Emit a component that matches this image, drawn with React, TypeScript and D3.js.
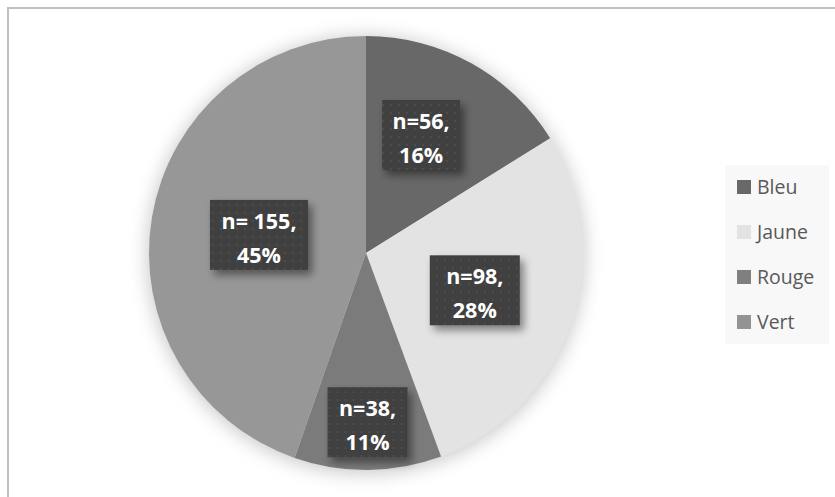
import React from "react";
import * as d3 from "d3";

const categories = ["Bleu", "Jaune", "Rouge", "Vert"];
const counts = [56, 98, 38, 155];
const percents = ["16%", "28%", "11%", "45%"];
const labelFirstLines = ["n=56,", "n=98,", "n=38,", "n= 155,"];

const sliceColors = ["#686868", "#e3e3e3", "#7b7b7b", "#979797"];
const legendColors = ["#686868", "#e3e3e3", "#7f7f7f", "#939393"];
const labelRadiusFrac = [0.6, 0.53, 0.78, 0.5];
const labelAngleShift = [-0.07, 0, 0, 0];

const W = 835;
const H = 497;
const cx = 366;
const cy = 253;
const R = 217;

export default function App() {
  const pie = d3.pie<number>().sort(null).value((d) => d);
  const arcs = pie(counts);
  const arcGen = d3.arc<d3.PieArcDatum<number>>().innerRadius(0).outerRadius(R);

  const boxW = [78, 90, 80, 98];
  const boxH = 70;

  return (
    <div style={{ position: "fixed", left: 0, top: 0 }}>
      <svg width={W} height={H} style={{ display: "block" }}>
        <defs>
          <filter id="pieShadow" x="-30%" y="-30%" width="160%" height="160%">
            <feGaussianBlur stdDeviation="9" />
          </filter>
          <filter id="boxShadow" x="-30%" y="-30%" width="170%" height="170%">
            <feGaussianBlur in="SourceAlpha" stdDeviation="4" />
            <feOffset dx="4" dy="5" result="b" />
            <feComponentTransfer>
              <feFuncA type="linear" slope="0.45" />
            </feComponentTransfer>
            <feMerge>
              <feMergeNode />
              <feMergeNode in="SourceGraphic" />
            </feMerge>
          </filter>
          <pattern id="dots" width="8" height="8" patternUnits="userSpaceOnUse">
            <rect width="8" height="8" fill="#3f3f3f" />
            <rect x="1" y="1" width="2" height="2" fill="#4d4d4d" />
          </pattern>
        </defs>
        <rect x={0} y={0} width={W} height={H} fill="#ffffff" />
        <rect x={8} y={8} width={W + 20} height={H + 20} fill="#ffffff" stroke="#bfbfbf" strokeWidth={2} />

        <circle cx={cx} cy={cy + 2} r={R + 2} fill="#a0a0a0" opacity={0.55} filter="url(#pieShadow)" />
        <g transform={`translate(${cx},${cy})`}>
          {arcs.map((a, i) => (
            <path key={categories[i]} d={arcGen(a) || ""} fill={sliceColors[i]} />
          ))}
        </g>

        {arcs.map((a, i) => {
          const mid = (a.startAngle + a.endAngle) / 2 + labelAngleShift[i];
          const r = R * labelRadiusFrac[i];
          const x = cx + Math.sin(mid) * r;
          const y = cy - Math.cos(mid) * r;
          return (
            <g key={"lab" + i} transform={`translate(${x},${y})`}>
              <rect
                x={-boxW[i] / 2}
                y={-boxH / 2}
                width={boxW[i]}
                height={boxH}
                fill="url(#dots)"
                filter="url(#boxShadow)"
              />
              <text
                textAnchor="middle"
                fontFamily="'Open Sans', sans-serif"
                fontWeight="bold"
                fontSize={21.5}
                fill="#ffffff"
              >
                <tspan x={0} y={-6}>{labelFirstLines[i]}</tspan>
                <tspan x={0} y={28}>{percents[i]}</tspan>
              </text>
            </g>
          );
        })}

        <rect x={725} y={165} width={104} height={179} fill="#f8f8f8" />
        {categories.map((c, i) => {
          const yc = 187 + i * 45;
          return (
            <g key={"leg" + c}>
              <rect x={737} y={yc - 7} width={14} height={14} fill={legendColors[i]} />
              <text
                x={757}
                y={yc + 7}
                fontFamily="'Open Sans', sans-serif"
                fontSize={19.5}
                fill="#595959"
              >
                {c}
              </text>
            </g>
          );
        })}
      </svg>
    </div>
  );
}
